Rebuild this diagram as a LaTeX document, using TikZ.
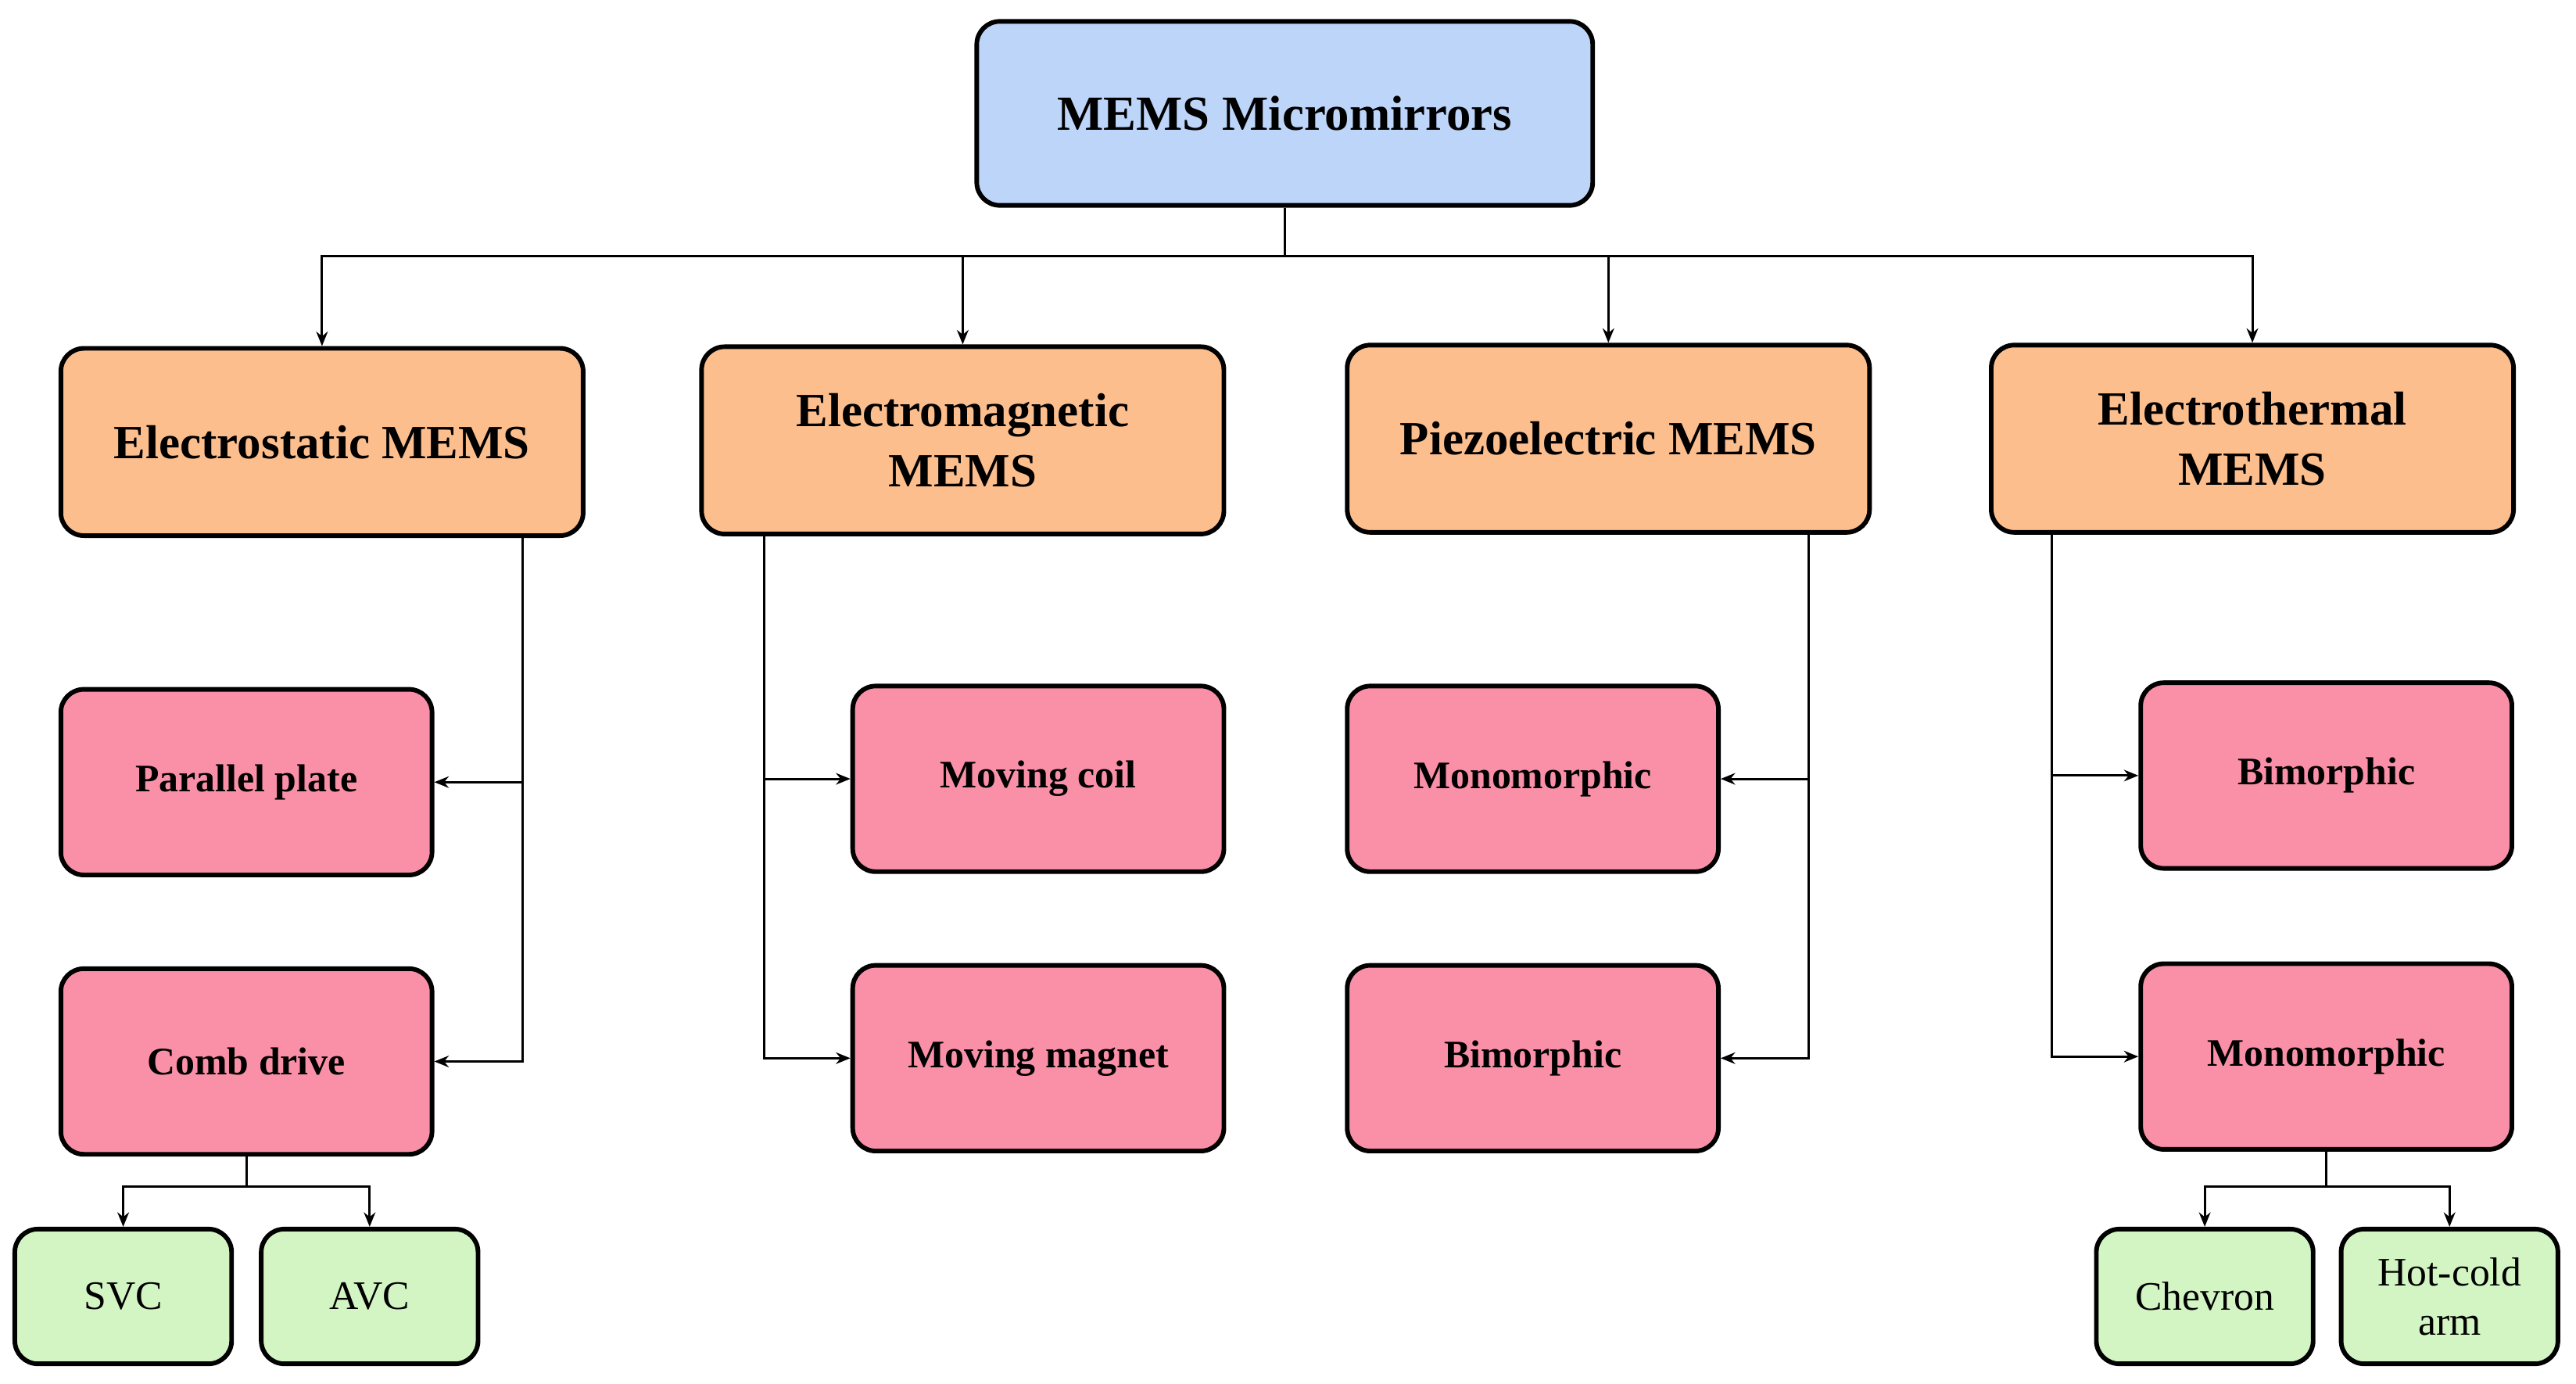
\documentclass[tikz,border=0pt]{standalone}
\usepackage{fontspec}
\setmainfont{Liberation Serif}
\usetikzlibrary{arrows.meta}
\definecolor{cTop}{HTML}{BDD5F8}
\definecolor{cMid}{HTML}{FDBE8E}
\definecolor{cLow}{HTML}{F990A7}
\definecolor{cLeaf}{HTML}{D3F5C3}
\tikzset{%
  box/.style={draw,line width=1.6pt,rounded corners=8pt,align=center,inner sep=2pt,fill=#1},
  box/.default=cMid,
  top/.style={box=cTop,minimum width=7.5cm,minimum height=2.24cm,font=\bfseries\fontsize{17}{20}\selectfont},
  mid/.style={box=cMid,minimum width=6.36cm,minimum height=2.28cm,font=\bfseries\fontsize{16.5}{21}\selectfont},
  low/.style={box=cLow,minimum width=4.52cm,minimum height=2.26cm,font=\bfseries\fontsize{13.5}{16}\selectfont},
  leaf/.style={box=cLeaf,minimum width=2.64cm,minimum height=1.64cm,font=\fontsize{14}{17}\selectfont},
  arr/.style={-{Stealth[length=5pt,width=4pt]},line width=0.8pt},
  con/.style={line width=0.8pt}
}
\begin{document}
\begin{tikzpicture}[x=0.02cm,y=-0.02cm]
  \useasboundingbox (0,0) rectangle (1568,842);
  % nodes
  \node[top] (mems) at (782,69) {MEMS Micromirrors};
  \node[mid] (es) at (196,269) {Electrostatic MEMS};
  \node[mid] (em) at (586,268) {Electromagnetic\\MEMS};
  \node[mid] (pz) at (979,267) {Piezoelectric MEMS};
  \node[mid] (et) at (1371,267) {Electrothermal\\MEMS};
  \node[low] (pp) at (150,476) {Parallel plate};
  \node[low] (cd) at (150,646) {Comb drive};
  \node[low] (mc) at (632,474) {Moving coil};
  \node[low] (mm) at (632,644) {Moving magnet};
  \node[low] (pmono) at (933,474) {Monomorphic};
  \node[low] (pbi) at (933,644) {Bimorphic};
  \node[low] (tbi) at (1416,472) {Bimorphic};
  \node[low] (tmono) at (1416,643) {Monomorphic};
  \node[leaf] (svc) at (75,789) {SVC};
  \node[leaf] (avc) at (225,789) {AVC};
  \node[leaf] (chev) at (1342,789) {Chevron};
  \node[leaf] (hca) at (1491,789) {Hot-cold\\arm};
  % top level
  \coordinate (bus) at (782,156);
  \draw[con] (mems.south) -- (bus);
  \draw[arr] (bus) -| (es.north);
  \draw[arr] (bus) -| (em.north);
  \draw[arr] (bus) -| (pz.north);
  \draw[arr] (bus) -| (et.north);
  % second level
  \coordinate (esA) at (318,326);
  \coordinate (emA) at (465,325);
  \coordinate (pzA) at (1101,324);
  \coordinate (etA) at (1249,324);
  \draw[arr] (esA) |- (pp.east);
  \draw[arr] (esA) |- (cd.east);
  \draw[arr] (emA) |- (mc.west);
  \draw[arr] (emA) |- (mm.west);
  \draw[arr] (pzA) |- (pmono.east);
  \draw[arr] (pzA) |- (pbi.east);
  \draw[arr] (etA) |- (tbi.west);
  \draw[arr] (etA) |- (tmono.west);
  % leaves
  \coordinate (cdB) at (150,722);
  \coordinate (tmB) at (1416,722);
  \draw[con] (cd.south) -- (cdB);
  \draw[arr] (cdB) -| (svc.north);
  \draw[arr] (cdB) -| (avc.north);
  \draw[con] (tmono.south) -- (tmB);
  \draw[arr] (tmB) -| (chev.north);
  \draw[arr] (tmB) -| (hca.north);
\end{tikzpicture}
\end{document}
